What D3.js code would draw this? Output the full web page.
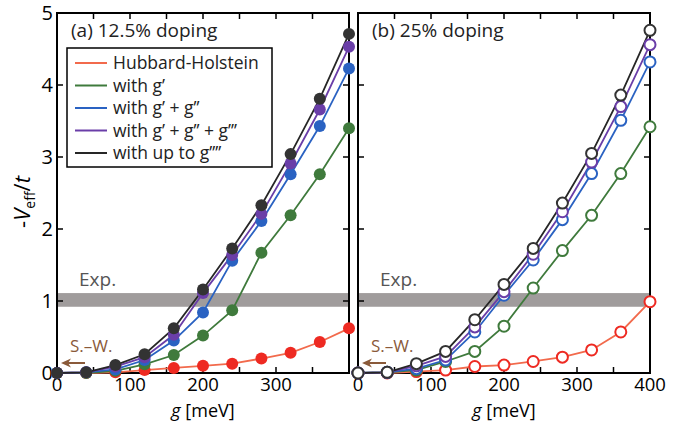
<!DOCTYPE html>
<html><head><meta charset="utf-8">
<script src="https://cdn.jsdelivr.net/npm/d3@7"></script>
<style>body{margin:0;background:#fff}svg{display:block}text{font-family:"Open Sans",sans-serif}</style>
</head><body><svg id="c" width="688" height="423"></svg>
<script>
const gVals = [0,40,80,120,160,200,240,280,320,360,400];
const seriesNames = ["Hubbard-Holstein","with g’","with g’ + g’’","with g’ + g’’ + g’’’","with up to g’’’’"];
const lineColors = ["#f26a4c","#3f7a3c","#2a62c2","#6a3ea8","#262626"];
const markColors = ["#ee2a22","#3f7a3c","#2a62c2","#6a3ea8","#333333"];
// panel (a) 12.5% doping
const a_HH   = [0,0,0.01,0.04,0.07,0.10,0.13,0.20,0.28,0.43,0.62];
const a_g1   = [0,0,0.03,0.12,0.25,0.52,0.87,1.67,2.19,2.76,3.40];
const a_g2   = [0,0.01,0.05,0.18,0.45,0.84,1.56,2.11,2.76,3.43,4.23];
const a_g3   = [0,0.01,0.09,0.22,0.53,1.11,1.64,2.21,2.91,3.66,4.53];
const a_g4   = [0,0.01,0.11,0.26,0.62,1.16,1.73,2.33,3.04,3.81,4.71];
// panel (b) 25% doping
const b_HH   = [0,0,0.02,0.04,0.09,0.11,0.16,0.22,0.32,0.57,0.99];
const b_g1   = [0,0.01,0.04,0.16,0.30,0.65,1.18,1.70,2.19,2.77,3.42];
const b_g2   = [0,0.01,0.06,0.18,0.57,1.08,1.57,2.13,2.77,3.51,4.32];
const b_g3   = [0,0.01,0.10,0.23,0.64,1.13,1.65,2.24,2.93,3.70,4.56];
const b_g4   = [0,0.01,0.13,0.30,0.74,1.23,1.73,2.36,3.05,3.86,4.76];
const expBand = [0.92, 1.11];
const yTicks = [0,1,2,3,4,5];
const xMinorTicks = [0,50,100,150,200,250,300,350,400];
const aXLabels = [0,100,200,300];
const bXLabels = [0,100,200,300,400];
const panels = [
  {x0:57, x1:349, title:"(a) 12.5% doping", data:[a_HH,a_g1,a_g2,a_g3,a_g4], filled:true, xl:aXLabels, legend:true, ylab:true},
  {x0:358, x1:650, title:"(b) 25% doping", data:[b_HH,b_g1,b_g2,b_g3,b_g4], filled:false, xl:bXLabels, legend:false, ylab:false}
];
const svg = d3.select("#c");
const y = d3.scaleLinear().domain([0,5]).range([373,13]);
const brown = "#8a5a3a";

panels.forEach(p=>{
  const x = d3.scaleLinear().domain([0,400]).range([p.x0,p.x1]);
  const g = svg.append("g");
  // exp band
  g.append("rect").attr("x",x(0)).attr("width",x(400)-x(0))
    .attr("y",y(expBand[1])).attr("height",y(expBand[0])-y(expBand[1])).attr("fill","#a09c9c");
  g.append("text").attr("x",x(0)+22).attr("y",286).attr("font-size",19).attr("fill","#555").text("Exp.");
  g.append("text").attr("x",x(0)+13).attr("y",352).attr("font-size",17).attr("fill",brown).text("S.–W.");
  // Spin-wave arrow
  const ay = 363, ax0 = x(0)+4;
  g.append("line").attr("x1",ax0+24).attr("x2",ax0+6).attr("y1",ay).attr("y2",ay)
    .attr("stroke",brown).attr("stroke-width",2);
  g.append("path").attr("d",`M${ax0},${ay} L${ax0+10},${ay-4.5} L${ax0+7},${ay} L${ax0+10},${ay+4.5} Z`).attr("fill",brown);
  // ticks
  const tk = g.append("g").attr("stroke","#000").attr("stroke-width",1.5);
  xMinorTicks.forEach(t=>{
    tk.append("line").attr("x1",x(t)).attr("x2",x(t)).attr("y1",13).attr("y2",19);
    tk.append("line").attr("x1",x(t)).attr("x2",x(t)).attr("y1",373).attr("y2",367);
  });
  yTicks.forEach(t=>{
    tk.append("line").attr("x1",x(0)).attr("x2",x(0)+6).attr("y1",y(t)).attr("y2",y(t));
    tk.append("line").attr("x1",x(400)).attr("x2",x(400)-6).attr("y1",y(t)).attr("y2",y(t));
  });
  // frame
  g.append("rect").attr("x",x(0)).attr("y",y(5)).attr("width",x(400)-x(0)).attr("height",y(0)-y(5))
    .attr("fill","none").attr("stroke","#000").attr("stroke-width",2);
  // x labels
  p.xl.forEach(t=>{
    g.append("text").attr("x",x(t)).attr("y",391).attr("text-anchor","middle").attr("font-size",18.5).text(t);
  });
  const xlab = g.append("text").attr("x",(x(0)+x(400))/2).attr("y",417).attr("text-anchor","middle").attr("font-size",18);
  xlab.append("tspan").attr("font-style","italic").text("g");
  xlab.append("tspan").text(" [meV]");
  if(p.ylab){
    yTicks.forEach(t=>{
      g.append("text").attr("x",x(0)-4).attr("y",y(t)+7).attr("text-anchor","end").attr("font-size",20).text(t);
    });
  }
  g.append("text").attr("x",x(0)+14).attr("y",37).attr("font-size",19).attr("fill","#222").text(p.title);
  // series
  const line = d3.line().x((d,i)=>x(gVals[i])).y(d=>y(d));
  p.data.forEach((s,k)=>{
    g.append("path").datum(s).attr("d",line).attr("fill","none").attr("stroke",lineColors[k]).attr("stroke-width",1.8);
  });
  p.data.forEach((s,k)=>{
    g.selectAll(null).data(s).join("circle")
      .attr("cx",(d,i)=>x(gVals[i])).attr("cy",d=>y(d))
      .attr("r",p.filled?6:5.5)
      .attr("fill",p.filled?markColors[k]:"#fff")
      .attr("stroke",p.filled?"none":markColors[k]).attr("stroke-width",2);
  });
  if(p.legend){
    const L = g.append("g");
    L.append("rect").attr("x",67).attr("y",48).attr("width",205).attr("height",119)
      .attr("fill","#fff").attr("stroke","#000").attr("stroke-width",1.5);
    seriesNames.forEach((n,k)=>{
      const yy = 63 + k*22.5;
      L.append("line").attr("x1",75).attr("x2",107).attr("y1",yy).attr("y2",yy).attr("stroke",lineColors[k]).attr("stroke-width",2);
      L.append("text").attr("x",113).attr("y",yy+6).attr("font-size",17.5).attr("fill","#222").text(n);
    });
  }
});
// y axis label
const yl = svg.append("text").attr("transform","translate(30,202) rotate(-90)").attr("text-anchor","middle").attr("font-size",22);
yl.append("tspan").text("-");
yl.append("tspan").attr("font-style","italic").text("V");
yl.append("tspan").attr("font-size",14).attr("dy",5).text("eff");
yl.append("tspan").attr("dy",-5).text("/");
yl.append("tspan").attr("font-style","italic").text("t");
</script></body></html>
